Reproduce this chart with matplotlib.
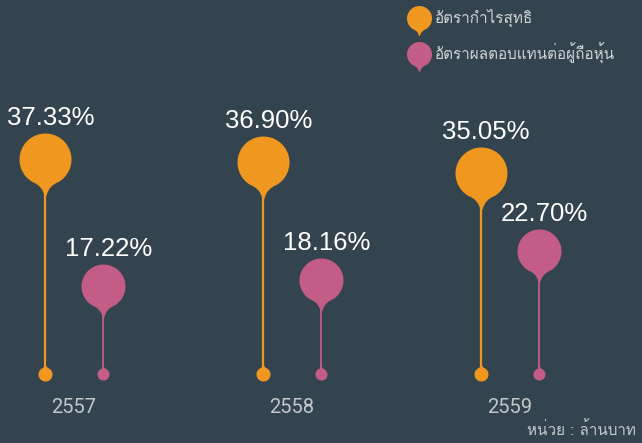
import matplotlib
matplotlib.use('Agg')
import matplotlib.pyplot as plt
import numpy as np
from matplotlib.path import Path
from matplotlib.lines import Line2D
from matplotlib import font_manager
from matplotlib.ft2font import FT2Font

# data
years = ["2557", "2558", "2559"]
profit_rate = [37.33, 36.90, 35.05]
return_rate = [17.22, 18.16, 22.70]
series_names = ["อัตรากำไรสุทธิ", "อัตราผลตอบแทนต่อผู้ถือหุ้น"]
unit_text = "หน่วย : ล้านบาท"

BG = "#34444e"
ORANGE = "#f0971f"
PINK = "#c35d85"
BASE = 3.2  # where the stems start (axis is not zero based)


def find_thai_font():
    # look for any installed font that has Thai glyphs
    for f in font_manager.fontManager.ttflist:
        try:
            cmap = FT2Font(f.fname).get_charmap()
        except Exception:
            continue
        if 0x0E2D in cmap and 0x0E32 in cmap:
            return f.name
    return None


thai = find_thai_font()
thai_family = [thai, "DejaVu Sans"] if thai else ["DejaVu Sans"]


def pin_path(tip=1.4, neck=0.035):
    # round head with a neck tapering down into the stem
    arc = Path.arc(-60, 240)
    verts = list(arc.vertices)
    codes = list(arc.codes)
    lx, ly = np.cos(np.radians(240)), np.sin(np.radians(240))
    verts += [(-0.13, -1.0), (-neck, -tip), (neck, -tip), (0.13, -1.0), (-lx, ly), (0, 0)]
    codes += [Path.CURVE3, Path.CURVE3, Path.LINETO, Path.CURVE3, Path.CURVE3, Path.CLOSEPOLY]
    return Path(verts, codes)


pin = pin_path()
pin_up = pin.transformed(matplotlib.transforms.Affine2D().scale(1, -1))

fig = plt.figure(figsize=(6.42, 4.43), dpi=100)
fig.patch.set_facecolor(BG)
ax = fig.add_axes([0, 0, 1, 1])
ax.set_facecolor(BG)
ax.set_xlim(-0.34, 2.608)
ax.set_ylim(-49 / 6.3, (443 - 49) / 6.3)
ax.axis("off")

x = np.arange(len(years))
off = 0.133

for xs, vals, color, r_px, lw in [(x - off, profit_rate, ORANGE, 26, 1.6),
                                  (x + off, return_rate, PINK, 22, 1.3)]:
    r = r_px * 0.72  # points
    ax.vlines(xs, BASE, vals, color=color, lw=lw, zorder=1)
    ax.plot(xs, vals, linestyle="none", marker=pin, markersize=2 * 1.4 * r,
            color=color, markeredgewidth=0, zorder=2)
    br = 7 if color == ORANGE else 6
    ax.plot(xs, [BASE] * len(xs), linestyle="none", marker=pin_up,
            markersize=2 * 1.4 * br * 0.72, color=color, markeredgewidth=0, zorder=2)
    for xi, v in zip(xs, vals):
        ax.annotate(f"{v:.2f}%", (xi, v), xytext=(4, r + 2), textcoords="offset points",
                    ha="center", va="bottom", color="white", fontsize=18.5,
                    family="Liberation Sans")

for xi, yr in zip(x, years):
    ax.annotate(yr, (xi, BASE), xytext=(0, -24.5), textcoords="offset points",
                ha="center", va="center", color="#c3c7ca", fontsize=14.5, family="Roboto")

fig.text(636 / 642, 1 - 430 / 443, unit_text, ha="right", va="center",
         color="#c3c7ca", fontsize=11, family=thai_family)

handles = [Line2D([], [], linestyle="none", marker=pin, markersize=2 * 1.4 * 9,
                  color=c, markeredgewidth=0) for c in (ORANGE, PINK)]
leg = ax.legend(handles, series_names, loc="upper left", bbox_to_anchor=(396 / 642, 1.01),
                frameon=False, handlelength=1.2, handletextpad=0.45, labelspacing=1.0,
                prop={"family": thai_family, "size": 11})
for t in leg.get_texts():
    t.set_color("#d0d2d4")

fig.savefig("out.png", dpi=100, facecolor=BG)
